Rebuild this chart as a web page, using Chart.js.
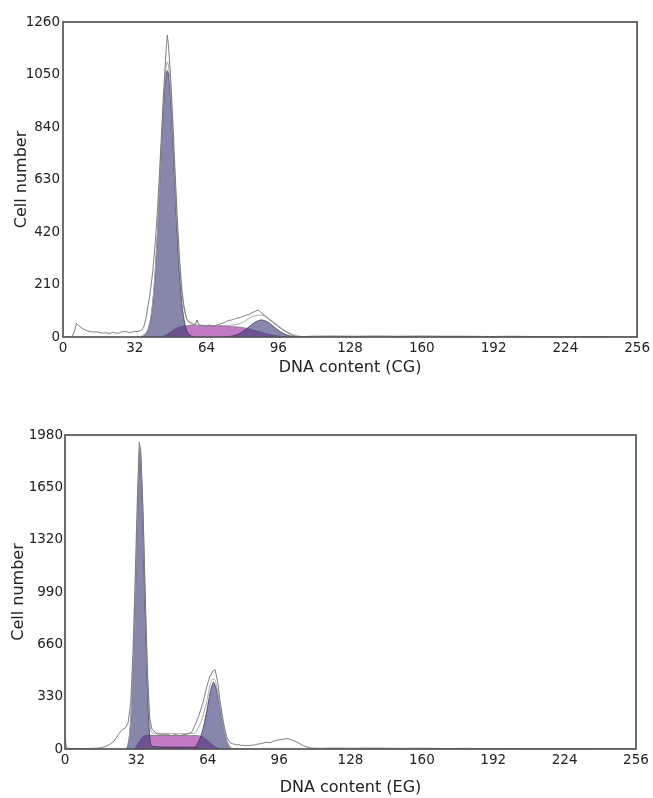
<!DOCTYPE html>
<html><head><meta charset="utf-8">
<script src="https://cdn.jsdelivr.net/npm/chart.js@4.4.1/dist/chart.umd.min.js"></script>
<style>
html,body{margin:0;padding:0;background:#fff;}
#w1{position:absolute;left:0;top:0;width:653px;height:381px;}
#w2{position:absolute;left:0;top:398px;width:653px;height:403px;}
</style></head><body>
<div id="w1"><canvas id="c1"></canvas></div>
<div id="w2"><canvas id="c2"></canvas></div>
<script>
// ---- tick labels ----
const xTicks = [0,32,64,96,128,160,192,224,256];
const cgYTicks = [0,210,420,630,840,1050,1260];
const egYTicks = [0,330,660,990,1320,1650,1980];

// ---- CG (top) ----
const cgRawX = [
  0,2,4,5,6,7,8,9,10,11,
  12,13,14,15,16,17,18,19,20,21,
  22,23,24,25,26,27,28,29,30,31,
  32,33,34,35,36,37,38,39,40,41,
  42,43,44,45,46,46.5,47,48,49,50,
  51,52,53,54,55,56,57,58,59,59.7,
  60.5,61,62,63,64,65,66,67,68,69,
  70,71,72,73,74,75,76,77,78,79,
  80,81,82,83,84,85,86,87,88,90,
  92,94,96,98,100,102,104,106,110,120,
  130,140,150,160,170,180,190,200,210,220,
  230,240,256];
const cgRawY = [
  0,0,0,20,55,45,38,32,28,24,
  22,20,20,21,18,16,16,17,15,14,
  18,17,15,16,20,21,22,19,18,20,
  22,22,24,28,40,75,130,185,260,360,
  490,650,830,1000,1150,1208,1170,1040,860,660,
  470,310,190,120,75,62,58,52,50,68,
  50,48,46,44,42,48,44,44,46,50,
  52,55,58,63,66,68,70,74,76,78,
  82,86,88,90,96,100,104,108,100,86,
  70,55,42,28,18,8,2,1,3,4,
  3,4,3,4,3,3,2,3,2,1,
  1,1,0];
const cgFitX = [34,36,38,40,42,44,45,46,46.5,47,48,49,50,51,52,53,54,55,56,58,62,70,76,80,84,88,92,96,100,104,108];
const cgFitY = [0,10,35,140,400,800,975,1080,1100,1085,985,815,620,435,285,180,115,78,60,50,47,46,48,58,80,88,72,45,20,6,0];
const cgG1X = [35,36,37,38,39,40,41,42,43,44,45,46,46.5,47,48,49,50,51,52,53,54,55,56,57,58];
const cgG1Y = [0,5,13,31,68,135,243,396,586,785,954,1052,1065,1052,954,785,586,396,243,135,68,31,13,5,0];
const cgSX = [44,46,48,50,52,54,56,60,64,68,72,76,80,84,88,92,96,100];
const cgSY = [0,8,20,32,40,44,46,46,45,44,43,41,38,30,20,10,4,0];
const cgG2X = [72,74,76,78,80,82,84,86,88.5,91,93,95,97,99,101,103,105];
const cgG2Y = [1,2,5,11,21,34,49,61,68,61,49,34,21,11,5,2,0];

// ---- EG (bottom) ----
const egRawX = [
  0,0.5,1,3,6,9,12,15,16,17,
  18,19,20,21,22,23,24,24.7,25.5,26,
  27,28.3,29.5,30.5,31.5,32.5,33.3,34,35,36,
  37,38,39,40.4,41,42,43,44,45,46,
  47,48,49,50,51,52,53,54,55,56,
  57,58,60,62,63.5,65,66.5,67.3,68.5,69.5,
  71,72.5,74,75,76,77,78,79,80,81,
  82,83,84,85,86,88,90,92,94,96,
  98,100,101,102,104,107,110,115,120,130,
  140,150,160,170,180,190,200,220,240,256];
const egRawY = [
  85,20,5,3,4,3,4,6,8,12,
  15,22,28,38,50,70,92,106,118,125,
  132,165,300,620,1100,1620,1935,1880,1500,960,
  480,190,125,106,98,95,90,88,94,92,
  86,84,90,90,84,86,90,92,96,100,
  110,140,210,300,390,460,495,500,420,306,
  170,74,40,34,30,26,28,22,24,20,
  23,22,26,24,30,34,42,40,52,58,
  62,66,60,55,43,20,6,4,6,5,
  6,4,5,3,4,2,3,2,1,0];
const egFitX = [28,29,30,31,32,33,33.5,34,35,36,37,38,39,40,45,50,55,58,60,62,64,65,66,67,68,69,70,71,72,73,74,76,78];
const egFitY = [15,100,320,720,1230,1730,1900,1820,1460,940,455,170,105,100,98,97,97,100,140,215,330,400,440,440,395,310,225,142,76,35,12,2,0];
const egG1X = [27.5,28,28.5,29,29.5,30,30.5,31,31.5,32,32.5,33,33.5,34,34.5,35,35.5,36,36.5,37,37.5,38,38.5,39,40,45,52,58,61];
const egG1Y = [0,15,45,100,190,320,500,720,960,1210,1450,1700,1884,1800,1620,1390,1130,860,600,370,190,80,30,18,15,12,12,10,0];
const egSX = [31,32,33,34,35,36,38,44,50,56,60,61.5,63,64.5,66,67.5,69,70];
const egSY = [0,15,40,62,78,84,86,86,85,85,84,78,65,45,27,12,3,0];
const egG2X = [57,58,59,60,61,62,63,64,65,66,66.5,67,68,69,70,71,72,73,74,75];
const egG2Y = [0,10,25,50,85,135,200,275,350,405,421,412,370,300,220,140,75,35,12,0];

function pts(xs, ys){ return xs.map((x,i)=>({x:x, y:ys[i]})); }

const frame = {
  id:'frame',
  afterDatasetsDraw(chart){
    const a = chart.chartArea, c = chart.ctx;
    c.save(); c.strokeStyle = '#555'; c.lineWidth = 1.7;
    c.strokeRect(a.left, a.top, a.right - a.left, a.bottom - a.top);
    c.restore();
  }
};

const FONT = 'DejaVu Sans';

function build(id, s, yTicks, xTitle, g){
  new Chart(document.getElementById(id), {
    type:'line',
    data:{datasets:[
      {data:pts(s.rawX, s.rawY), borderColor:'rgba(120,120,120,0.95)', borderWidth:1, fill:false, tension:0, order:0},
      {data:pts(s.fitX, s.fitY), borderColor:'rgba(165,165,175,0.95)', borderWidth:1, fill:false, cubicInterpolationMode:'monotone', order:1},
      {data:pts(s.g1X, s.g1Y), borderColor:'rgba(50,50,85,0.75)', borderWidth:1, backgroundColor:'rgba(55,55,115,0.6)', fill:'origin', cubicInterpolationMode:'monotone', order:2},
      {data:pts(s.g2X, s.g2Y), borderColor:'rgba(50,50,85,0.75)', borderWidth:1, backgroundColor:'rgba(55,55,120,0.6)', fill:'origin', cubicInterpolationMode:'monotone', order:3},
      {data:pts(s.sX, s.sY), borderColor:'rgba(140,60,150,0.6)', borderWidth:1, backgroundColor:'rgba(170,70,175,0.72)', fill:'origin', cubicInterpolationMode:'monotone', order:4}
    ]},
    options:{
      responsive:true, maintainAspectRatio:false, animation:false,
      elements:{point:{radius:0, hoverRadius:0}},
      layout:{padding:g.pad},
      plugins:{legend:{display:false}, tooltip:{enabled:false}},
      events:[],
      scales:{
        x:{type:'linear', min:0, max:256,
          grid:{display:false, drawTicks:false}, border:{display:false},
          afterBuildTicks: sc => { sc.ticks = xTicks.map(v=>({value:v})); },
          afterFit: sc => { sc.height = g.xh; },
          ticks:{padding:g.xtp, autoSkip:false, maxRotation:0, color:'#222', font:{family:FONT, size:13.5}, callback:v=>String(v)},
          title:{display:true, text:xTitle, color:'#222', font:{family:FONT, size:16}, padding:{top:4,bottom:4}}
        },
        y:{type:'linear', min:0, max:yTicks[yTicks.length-1],
          grid:{display:false, drawTicks:false}, border:{display:false},
          afterBuildTicks: sc => { sc.ticks = yTicks.map(v=>({value:v})); },
          afterFit: sc => { sc.width = g.yw; },
          ticks:{padding:g.ytp, autoSkip:false, color:'#222', font:{family:FONT, size:13.5}, callback:v=>String(v)},
          title:{display:true, text:'Cell number', color:'#222', font:{family:FONT, size:16}, padding:{top:4,bottom:4}}
        }
      }
    },
    plugins:[frame]
  });
}

build('c1', {rawX:cgRawX, rawY:cgRawY, fitX:cgFitX, fitY:cgFitY, g1X:cgG1X, g1Y:cgG1Y, g2X:cgG2X, g2Y:cgG2Y, sX:cgSX, sY:cgSY},
  cgYTicks, 'DNA content (CG)', {pad:{left:8, top:22, right:15, bottom:0}, yw:55, xh:44, xtp:3, ytp:3});
build('c2', {rawX:egRawX, rawY:egRawY, fitX:egFitX, fitY:egFitY, g1X:egG1X, g1Y:egG1Y, g2X:egG2X, g2Y:egG2Y, sX:egSX, sY:egSY},
  egYTicks, 'DNA content (EG)', {pad:{left:5, top:37, right:17, bottom:0}, yw:60, xh:52, xtp:3, ytp:2});
</script>
</body></html>
